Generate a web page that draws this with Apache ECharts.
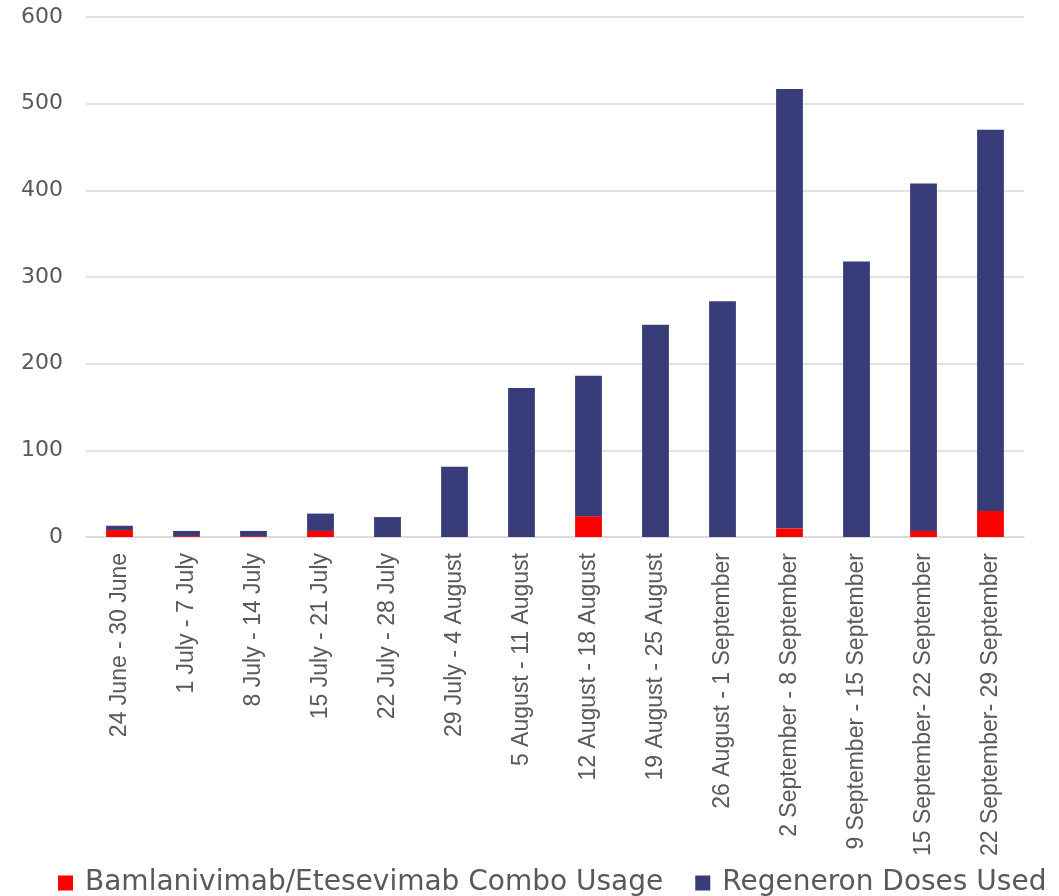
<!DOCTYPE html>
<html>
<head>
<meta charset="utf-8">
<script src="https://cdn.jsdelivr.net/npm/echarts@6/dist/echarts.min.js"></script>
<style>html,body{margin:0;padding:0;background:#fff;}#c{width:1059px;height:896px;}</style>
</head>
<body>
<div id="c"></div>
<script>
const categories = ["24 June - 30 June","1 July - 7 July","8 July - 14 July","15 July - 21 July","22 July - 28 July","29 July - 4 August","5 August - 11 August","12 August - 18 August","19 August - 25 August","26 August - 1 September","2 September - 8 September","9 September - 15 September","15 September- 22 September","22 September- 29 September"];
const bamlanivimab = [8, 1, 1, 7, 0, 0, 0, 24, 0, 0, 10, 0, 7, 30];
const regeneron = [5, 6, 6, 20, 23, 81, 172, 162, 245, 272, 507, 318, 401, 440];
const seriesNames = ["Bamlanivimab/Etesevimab Combo Usage", "Regeneron Doses Used"];

const chart = echarts.init(document.getElementById('c'));
chart.setOption({
  animation: false,
  grid: {left: 86, right: 35, top: 17, bottom: 359, containLabel: false},
  legend: {
    left: 53, top: 864,
    itemWidth: 15, itemHeight: 15, itemGap: 32,
    icon: 'rect',
    textStyle: {fontFamily: 'DejaVu Sans', fontSize: 28, color: '#595959', padding: [0,0,0,7]},
    data: seriesNames
  },
  xAxis: {
    type: 'category',
    data: categories,
    axisLine: {show: true, lineStyle: {color: '#d9d9d9', width: 1.5}},
    axisTick: {show: false},
    axisLabel: {rotate: 90, interval: 0, margin: 16, fontFamily: 'Liberation Sans', fontSize: 23, color: '#595959'}
  },
  yAxis: {
    type: 'value', min: 0, max: 600, interval: 100,
    axisLine: {show: false}, axisTick: {show: false},
    splitLine: {lineStyle: {color: '#d9d9d9', width: 1.5}},
    axisLabel: {margin: 23, fontFamily: 'DejaVu Sans', fontSize: 22, color: '#595959'}
  },
  series: [
    {name: seriesNames[0], type: 'bar', stack: 'a', data: bamlanivimab, barWidth: '40%', itemStyle: {color: '#ff0000'}},
    {name: seriesNames[1], type: 'bar', stack: 'a', data: regeneron, barWidth: '40%', itemStyle: {color: '#383d7a'}}
  ]
});
</script>
</body>
</html>
